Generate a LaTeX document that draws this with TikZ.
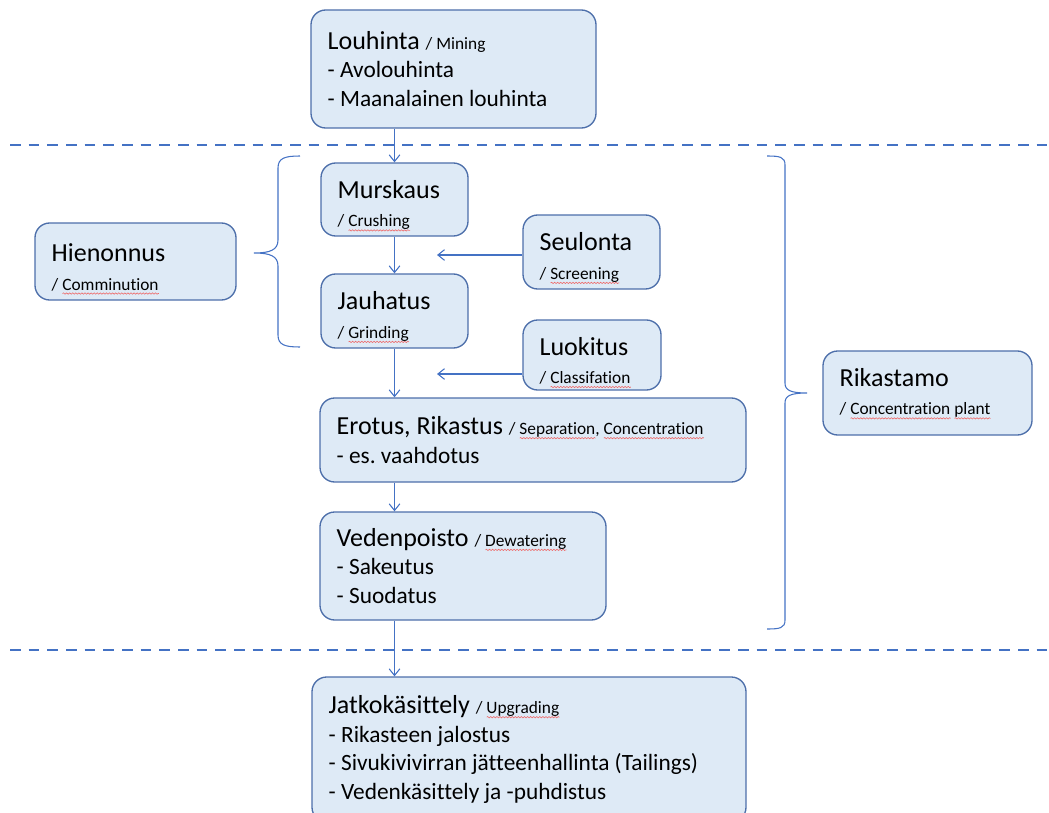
\documentclass[tikz,border=0pt]{standalone}
\usepackage{fontspec}
\setmainfont{Carlito}[Ligatures=CommonOff]
\usetikzlibrary{arrows.meta, decorations.pathmorphing}
\definecolor{boxfill}{HTML}{DEEAF6}
\definecolor{boxline}{HTML}{4D6FAA}
\definecolor{linec}{HTML}{4472C4}
\definecolor{wavec}{HTML}{EE6A6A}
\newcommand{\isot}{\fontsize{19.5}{21.4}\selectfont}
\newcommand{\lista}{\fontsize{17.5}{21.4}\selectfont}
\newcommand{\pien}[1]{{\fontsize{13}{21.4}\selectfont #1}}
\newcommand{\alas}{\rule{0pt}{22pt}}
\newlength{\wavylen}
\newcommand{\wavy}[1]{\settowidth{\wavylen}{#1}\rlap{\smash{\tikz[baseline=0pt, x=1pt, y=1pt]\draw[wavec, fill=none, sharp corners, solid, line width=.45pt, decoration={snake, amplitude=.5pt, segment length=2.3pt}, decorate](0,-2.6)--(\the\wavylen,-2.6);}}#1}

\begin{document}
\begin{tikzpicture}[x=.75pt, y=-.75pt, >={Straight Barb[length=5pt,width=8pt]},
    box/.style={draw=boxline, fill=boxfill, line width=1pt, rounded corners=11pt, align=flush left, inner xsep=12.5pt, inner ysep=0pt, font=\isot},
    line/.style={draw=linec, line width=.8pt}]
\useasboundingbox (0,0) rectangle (1049,813);
\node[box, text width=188.75pt, minimum height=88.5pt] (louh) at (453.5,69) {Louhinta \pien{/ Mining}\\\lista - Avolouhinta\\- Maanalainen louhinta};
\node[box, text width=85.25pt, minimum height=54.75pt] (mursk) at (394.5,199.5) {\alas Murskaus\\\pien{/ \wavy{Crushing}}};
\node[box, text width=85.25pt, minimum height=55.5pt] (jauh) at (394.5,311) {\alas Jauhatus\\\pien{/ \wavy{Grinding}}};
\node[box, text width=125.75pt, minimum height=57.75pt] (hien) at (135.5,261.5) {\alas Hienonnus\\\pien{/ \wavy{Comminution}}};
\node[box, text width=77.75pt, minimum height=55.5pt] (seul) at (591.5,252) {\alas Seulonta\\\pien{/ \wavy{Screening}}};
\node[box, text width=78.5pt, minimum height=52.5pt] (luok) at (592,355) {\alas Luokitus\\\pien{/ \wavy{Classifation}}};
\node[box, text width=294.5pt, minimum height=63pt] (erot) at (533,440) {Erotus, Rikastus \pien{/ \wavy{Separation}, \wavy{Concentration}}\\\lista - es.\ vaahdotus};
\node[box, text width=189.5pt, minimum height=81pt] (veden) at (463,566) {Vedenpoisto \pien{/ \wavy{Dewatering}}\\\lista - Sakeutus\\- Suodatus};
\node[box, text width=131.75pt, minimum height=63pt] (rik) at (927.5,393) {Rikastamo\\\pien{/ \wavy{Concentration} \wavy{plant}}};
\node[box, text width=300.5pt, minimum height=108.75pt] (jatko) at (529,749.5) {Jatkokäsittely \pien{/ \wavy{Upgrading}}\\\lista - Rikasteen jalostus\\- Sivukivivirran jätteenhallinta (Tailings)\\- Vedenkäsittely ja -puhdistus};

\draw[line, dash pattern=on 8pt off 6pt](10,145)--(1049,145);
\draw[line, dash pattern=on 8pt off 6pt](10,650)--(1049,650);

\draw[line,->](louh.south -| mursk.north)--(mursk.north);
\draw[line,->](mursk.south)--(jauh.north);
\draw[line,->](jauh.south)--(jauh.south |- erot.north);
\draw[line,->](erot.south -| jauh.south)--(veden.north -| jauh.south);
\draw[line,->](veden.south -| jauh.south)--(jatko.north -| jauh.south);
\coordinate (seulk) at (437,255);
\coordinate (luokk) at (437,374);
\draw[line,->](seul.west |- seulk)--(seulk);
\draw[line,->](luok.west |- luokk)--(luokk);

\draw[line](300,156) .. controls (285,156) and (278,158) .. (278,168)--(278,240) .. controls (278,250) and (270,253) .. (254,253) .. controls (270,253) and (278,256) .. (278,266)--(278,335) .. controls (278,345) and (285,347) .. (300,347);
\draw[line](767,156) .. controls (780,156) and (785,157) .. (785,165)--(785,383) .. controls (785,390) and (790,393) .. (807,393) .. controls (790,393) and (785,396) .. (785,403)--(785,620) .. controls (785,628) and (780,629) .. (767,629);
\end{tikzpicture}
\end{document}
